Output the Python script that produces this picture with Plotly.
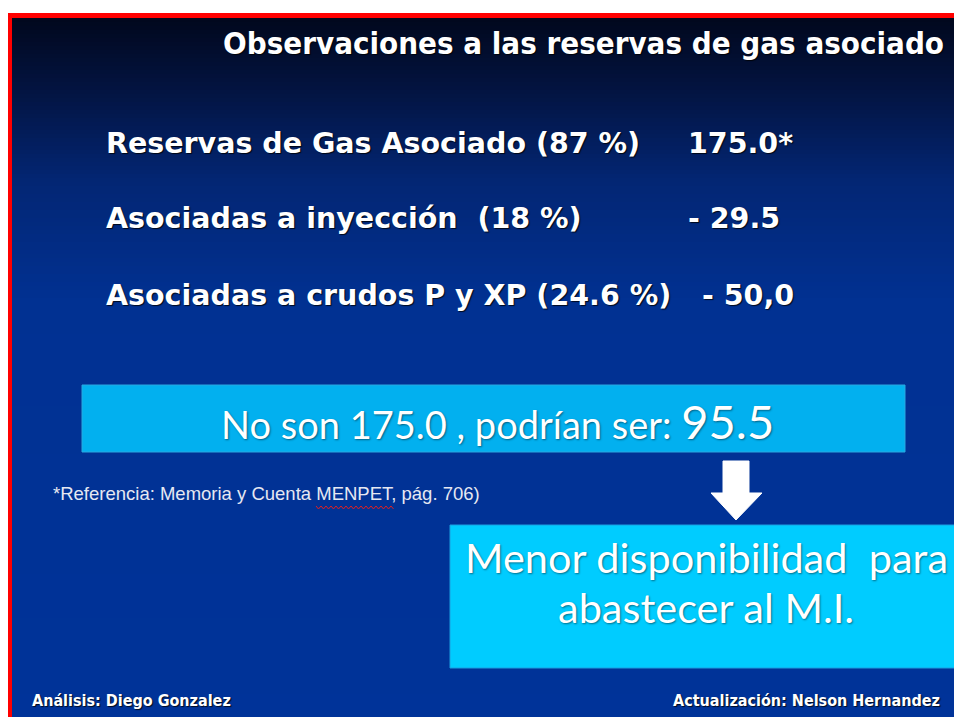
import plotly.graph_objects as go

W, H = 954, 717

title = "Observaciones a las reservas de gas asociado"
row_labels = ["Reservas de Gas Asociado (87 %)",
              "Asociadas a inyección  (18 %)",
              "Asociadas a crudos P y XP (24.6 %)"]
row_values = ["175.0*", "- 29.5", "- 50,0"]
box1_text = "No son 175.0 , podrían ser: "
box1_value = "95.5"
box2_lines = ["Menor disponibilidad  para", "abastecer al M.I."]
footnote = "*Referencia: Memoria y Cuenta MENPET, pág. 706)"
footer_left = "Análisis: Diego Gonzalez"
footer_right = "Actualización: Nelson Hernandez"


def px(x):
    return x / W


def py(y):
    return 1 - y / H


shapes = []
# red border (top + left)
shapes.append(dict(type="rect", xref="paper", yref="paper", x0=px(8), x1=px(960), y0=py(720), y1=py(13),
                   fillcolor="#ff0000", line_width=0, layer="below"))


def lerp(c1, c2, t):
    return tuple(int(round(a + (b - a) * t)) for a, b in zip(c1, c2))


stops = [(18, (1, 8, 30)), (90, (3, 20, 66)), (180, (3, 38, 116)), (300, (1, 49, 146)), (720, (0, 51, 153))]
y = 18
step = 4
while y < 720:
    for (ya, ca), (yb, cb) in zip(stops[:-1], stops[1:]):
        if ya <= y < yb:
            c = lerp(ca, cb, (y - ya) / (yb - ya))
            break
    else:
        c = stops[-1][1]
    shapes.append(dict(type="rect", xref="paper", yref="paper", x0=px(12), x1=px(960),
                       y0=py(min(y + step + 1, 720)), y1=py(y),
                       fillcolor="rgb(%d,%d,%d)" % c, line_width=0, layer="below"))
    y += step

# box 1
shapes.append(dict(type="rect", xref="paper", yref="paper", x0=px(82), x1=px(905),
                   y0=py(452), y1=py(385), fillcolor="#02b0ef", line=dict(color="#2aa8e0", width=1)))
# box 2
shapes.append(dict(type="rect", xref="paper", yref="paper", x0=px(450), x1=px(960),
                   y0=py(668), y1=py(525), fillcolor="#00ccff", line=dict(color="#1a9fe0", width=1)))
# arrow
arrow_pts = [(723, 461), (749, 461), (749, 493), (762, 493), (736, 520), (711, 493), (723, 493)]
path = "M " + " L ".join("%f,%f" % (px(a), py(b)) for a, b in arrow_pts) + " Z"
shapes.append(dict(type="path", xref="paper", yref="paper", path=path,
                   fillcolor="white", line=dict(color="white", width=1)))
# red wavy underline under MENPET
wave = []
x0w = 316
for i in range(32):
    wave.append((x0w + i * 2.5, 506 if i % 2 == 0 else 509))
wpath = "M " + " L ".join("%f,%f" % (px(a), py(b)) for a, b in wave)
shapes.append(dict(type="path", xref="paper", yref="paper", path=wpath,
                   line=dict(color="#e02020", width=1)))

ann = []
cond_font = "DejaVu Sans Condensed"
bold_font = "DejaVu Sans"
shadow = "1px 1px 1px rgba(0,0,0,0.8)"
ann.append(dict(text="<b>" + title + "</b>", x=px(946), y=py(43), xanchor="right", yanchor="middle",
                font=dict(family=cond_font, size=31, color="white", shadow=shadow)))
row_y = [143, 218, 295]
val_x = [686, 686, 700]
for lab, val, yy, vx in zip(row_labels, row_values, row_y, val_x):
    ann.append(dict(text="<b>" + lab + "</b>", x=px(104), y=py(yy), xanchor="left", yanchor="middle",
                    font=dict(family=bold_font, size=28.5, color="white", shadow=shadow)))
    ann.append(dict(text="<b>" + val + "</b>", x=px(vx), y=py(yy), xanchor="left", yanchor="middle",
                    font=dict(family=bold_font, size=28.5, color="white", shadow=shadow)))

box_font = "Lato"
soft = "1px 1px 2px rgba(0,0,0,0.45)"
ann.append(dict(text=box1_text + "<span style='font-size:47px'>" + box1_value + "</span>",
                x=px(497), y=py(421), xanchor="center", yanchor="middle",
                font=dict(family=box_font, size=38, color="white", shadow=soft)))
ann.append(dict(text=footnote, x=px(51), y=py(493), xanchor="left", yanchor="middle",
                font=dict(family="Liberation Sans", size=18.5, color="#e6e8f2")))
ann.append(dict(text=box2_lines[0], x=px(706), y=py(557), xanchor="center", yanchor="middle",
                font=dict(family=box_font, size=41.5, color="white", shadow=soft)))
ann.append(dict(text=box2_lines[1], x=px(706), y=py(607), xanchor="center", yanchor="middle",
                font=dict(family=box_font, size=41.5, color="white", shadow=soft)))
ann.append(dict(text="<b>" + footer_left + "</b>", x=px(30), y=py(700), xanchor="left", yanchor="middle",
                font=dict(family=cond_font, size=16, color="white", shadow=shadow)))
ann.append(dict(text="<b>" + footer_right + "</b>", x=px(942), y=py(700), xanchor="right", yanchor="middle",
                font=dict(family=cond_font, size=16, color="white", shadow=shadow)))
for a in ann:
    a.update(xref="paper", yref="paper", showarrow=False)

fig = go.Figure()
fig.update_layout(width=W, height=H, margin=dict(l=0, r=0, t=0, b=0),
                  paper_bgcolor="white", plot_bgcolor="rgba(0,0,0,0)",
                  xaxis=dict(visible=False, range=[0, 1]), yaxis=dict(visible=False, range=[0, 1]),
                  shapes=shapes, annotations=ann, showlegend=False)
fig.write_html("out.html", config={"displayModeBar": False},
               post_script="document.body.style.margin='0';document.documentElement.style.overflow='hidden';document.body.style.overflow='hidden';")
